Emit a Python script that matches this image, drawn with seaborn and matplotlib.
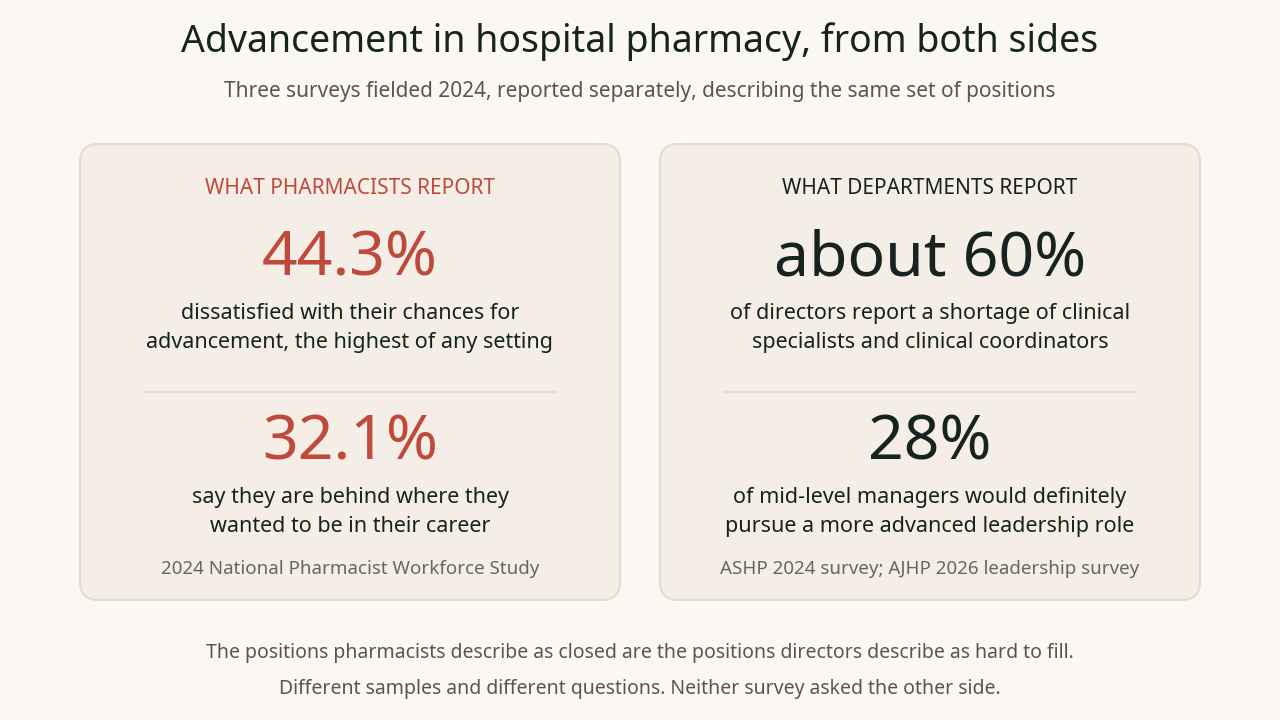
import seaborn as sns
import matplotlib.pyplot as plt
from matplotlib.patches import FancyBboxPatch

title = "Advancement in hospital pharmacy, from both sides"
subtitle = "Three surveys fielded 2024, reported separately, describing the same set of positions"
headers = ["WHAT PHARMACISTS REPORT", "WHAT DEPARTMENTS REPORT"]
top_values = ["44.3%", "about 60%"]
top_notes = ["dissatisfied with their chances for\nadvancement, the highest of any setting",
             "of directors report a shortage of clinical\nspecialists and clinical coordinators"]
bottom_values = ["32.1%", "28%"]
bottom_notes = ["say they are behind where they\nwanted to be in their career",
                "of mid-level managers would definitely\npursue a more advanced leadership role"]
sources = ["2024 National Pharmacist Workforce Study",
           "ASHP 2024 survey; AJHP 2026 leadership survey"]
footer = ["The positions pharmacists describe as closed are the positions directors describe as hard to fill.",
          "Different samples and different questions. Neither survey asked the other side."]

BG = "#fbf8f3"
CARD = "#f4eee6"
EDGE = "#e6dccb"
RED = "#bf4a3c"
DARK = "#17231f"
GRAY = "#6b6560"
accents = [RED, DARK]

sns.set_theme(style="white")
plt.rcParams["font.family"] = ["Noto Sans", "DejaVu Sans"]

fig = plt.figure(figsize=(12.8, 7.2), dpi=100, facecolor=BG)
ax = fig.add_axes([0, 0, 1, 1])
ax.set_xlim(0, 1280)
ax.set_ylim(720, 0)
ax.axis("off")
ax.set_facecolor(BG)

ax.text(640, 42, title, ha="center", va="center", fontsize=27, fontweight="bold", color=DARK)
ax.text(640, 92, subtitle, ha="center", va="center", fontsize=15, color="#5a5550")

for i in range(2):
    x0 = 80 + i * 580
    cx = x0 + 270
    ax.add_patch(FancyBboxPatch((x0, 144), 540, 456, boxstyle="round,pad=0,rounding_size=18",
                                facecolor=CARD, edgecolor=EDGE, linewidth=1.5))
    ax.text(cx, 188, headers[i], ha="center", va="center", fontsize=15, fontweight="bold",
            color=accents[i])
    ax.text(cx, 260, top_values[i], ha="center", va="center", fontsize=45, fontweight="bold",
            color=accents[i])
    ax.text(cx, 328, top_notes[i], ha="center", va="center", fontsize=15.5, color=DARK,
            linespacing=1.45)
    ax.plot([x0 + 64, x0 + 476], [392, 392], color="#e3d9c9", lw=1.2)
    ax.text(cx, 444, bottom_values[i], ha="center", va="center", fontsize=45, fontweight="bold",
            color=accents[i])
    ax.text(cx, 512, bottom_notes[i], ha="center", va="center", fontsize=15.5, color=DARK,
            linespacing=1.45)
    ax.text(cx, 569, sources[i], ha="center", va="center", fontsize=13.5, color=GRAY)

ax.text(640, 653, footer[0], ha="center", va="center", fontsize=14, color="#5a5550")
ax.text(640, 689, footer[1], ha="center", va="center", fontsize=14, color="#5a5550")

fig.savefig("out.png", dpi=100, facecolor=BG)
